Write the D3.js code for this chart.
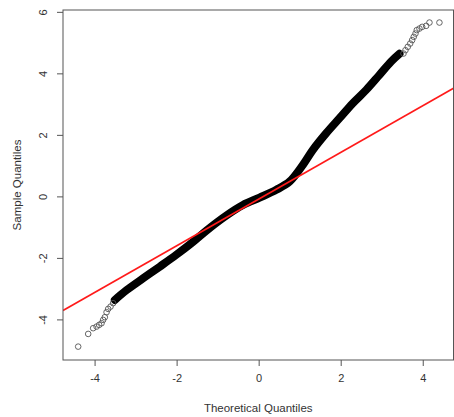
<!DOCTYPE html>
<html>
<head>
<meta charset="utf-8">
<script src="https://cdn.jsdelivr.net/npm/d3@7"></script>
<style>
  html, body { margin: 0; padding: 0; background: #fff; }
  svg { display: block; }
  text { font-family: "Liberation Sans", Arial, sans-serif; fill: #333; }
</style>
</head>
<body>
<svg id="chart" width="454" height="417"></svg>
<script>
// ---- data ----
const xTicks = [-4, -2, 0, 2, 4];
const yTicks = [-4, -2, 0, 2, 4, 6];
const xTickLabels = ["-4", "-2", "0", "2", "4"];
const yTickLabels = ["-4", "-2", "0", "2", "4", "6"];

// sparse lower tail points (theoretical, sample)
const lowerTheo   = [-4.400, -4.156, -4.035, -3.952, -3.889, -3.830, -3.791, -3.750, -3.708, -3.669, -3.611, -3.548];
const lowerSample = [-4.885, -4.472, -4.286, -4.234, -4.179, -4.124, -4.016, -3.928, -3.766, -3.659, -3.584, -3.473];

// dense central band (theoretical, sample)
const bandTheo   = [-3.506, -3.221, -2.817, -2.411, -2.004, -1.600, -1.273, -0.786, -0.382, 0.024, 0.431, 0.755, 1.079, 1.322, 1.648, 1.972, 2.296, 2.622, 2.946, 3.231, 3.433];
const bandSample = [-3.366, -3.050, -2.665, -2.285, -1.895, -1.480, -1.110, -0.620, -0.280, -0.040, 0.215, 0.481, 1.024, 1.512, 2.055, 2.543, 3.031, 3.463, 3.951, 4.384, 4.634];

// sparse upper tail points (theoretical, sample)
const upperTheo   = [3.531, 3.579, 3.635, 3.694, 3.742, 3.781, 3.823, 3.854, 3.920, 3.986, 4.083, 4.164, 4.407];
const upperSample = [4.644, 4.754, 4.862, 4.969, 5.080, 5.187, 5.294, 5.405, 5.457, 5.512, 5.545, 5.652, 5.652];

// qqline (through the quartiles)
const lineIntercept = -0.09;
const lineSlope = 0.759;

const xDomain = [-4.77, 4.75];
const yDomain = [-5.32, 6.06];

// ---- drawing ----
const svg = d3.select("#chart");
const plot = { left: 63, right: 453.5, top: 10, bottom: 360 };

const x = d3.scaleLinear().domain(xDomain).range([plot.left, plot.right]);
const y = d3.scaleLinear().domain(yDomain).range([plot.bottom, plot.top]);

svg.append("defs").append("clipPath").attr("id", "clip")
  .append("rect")
  .attr("x", plot.left).attr("y", plot.top)
  .attr("width", plot.right - plot.left).attr("height", plot.bottom - plot.top);

const g = svg.append("g").attr("clip-path", "url(#clip)");

// dense band
const band = bandTheo.map((t, i) => [t, bandSample[i]]);
g.append("path")
  .datum(band)
  .attr("d", d3.line().x(d => x(d[0])).y(d => y(d[1])).curve(d3.curveCatmullRom.alpha(0.5)))
  .attr("fill", "none")
  .attr("stroke", "#000")
  .attr("stroke-width", 8)
  .attr("stroke-linecap", "round")
  .attr("stroke-linejoin", "round");

// tail circles
const tails = lowerTheo.map((t, i) => [t, lowerSample[i]])
  .concat(upperTheo.map((t, i) => [t, upperSample[i]]));
g.selectAll("circle.pt")
  .data(tails)
  .enter().append("circle")
  .attr("class", "pt")
  .attr("cx", d => x(d[0]))
  .attr("cy", d => y(d[1]))
  .attr("r", 2.8)
  .attr("fill", "none")
  .attr("stroke", "#555")
  .attr("stroke-width", 0.9);

// qq line
g.append("line")
  .attr("x1", x(xDomain[0])).attr("y1", y(lineIntercept + lineSlope * xDomain[0]))
  .attr("x2", x(xDomain[1])).attr("y2", y(lineIntercept + lineSlope * xDomain[1]))
  .attr("stroke", "#ff1a1a")
  .attr("stroke-width", 1.6);

// box
svg.append("rect")
  .attr("x", plot.left).attr("y", plot.top)
  .attr("width", plot.right - plot.left).attr("height", plot.bottom - plot.top)
  .attr("fill", "none").attr("stroke", "#555").attr("stroke-width", 1);

// x axis
const xAxis = d3.axisBottom(x).tickValues(xTicks)
  .tickFormat((d, i) => xTickLabels[i]).tickSize(6).tickPadding(8);
const gx = svg.append("g").attr("transform", `translate(0,${plot.bottom})`).call(xAxis);
gx.select(".domain").remove();
gx.selectAll(".tick line").attr("stroke", "#555");
gx.selectAll(".tick text").attr("font-size", 11).style("fill", "#333")
  .style("font-family", '"Liberation Sans", Arial, sans-serif');

// y axis
const yAxis = d3.axisLeft(y).tickValues(yTicks)
  .tickFormat((d, i) => yTickLabels[i]).tickSize(6).tickPadding(0);
const gy = svg.append("g").attr("transform", `translate(${plot.left},0)`).call(yAxis);
gy.select(".domain").remove();
gy.selectAll(".tick line").attr("stroke", "#555");
gy.selectAll(".tick text")
  .attr("x", null).attr("dy", null)
  .attr("transform", "translate(-16,0) rotate(-90)")
  .attr("text-anchor", "middle")
  .attr("font-size", 11).style("fill", "#333")
  .style("font-family", '"Liberation Sans", Arial, sans-serif');

// axis titles
svg.append("text")
  .attr("x", (plot.left + plot.right) / 2).attr("y", 412)
  .attr("text-anchor", "middle").attr("font-size", 11.5)
  .text("Theoretical Quantiles");

svg.append("text")
  .attr("transform", `translate(21,${(plot.top + plot.bottom) / 2}) rotate(-90)`)
  .attr("text-anchor", "middle").attr("font-size", 11.5)
  .text("Sample Quantiles");
</script>
</body>
</html>
